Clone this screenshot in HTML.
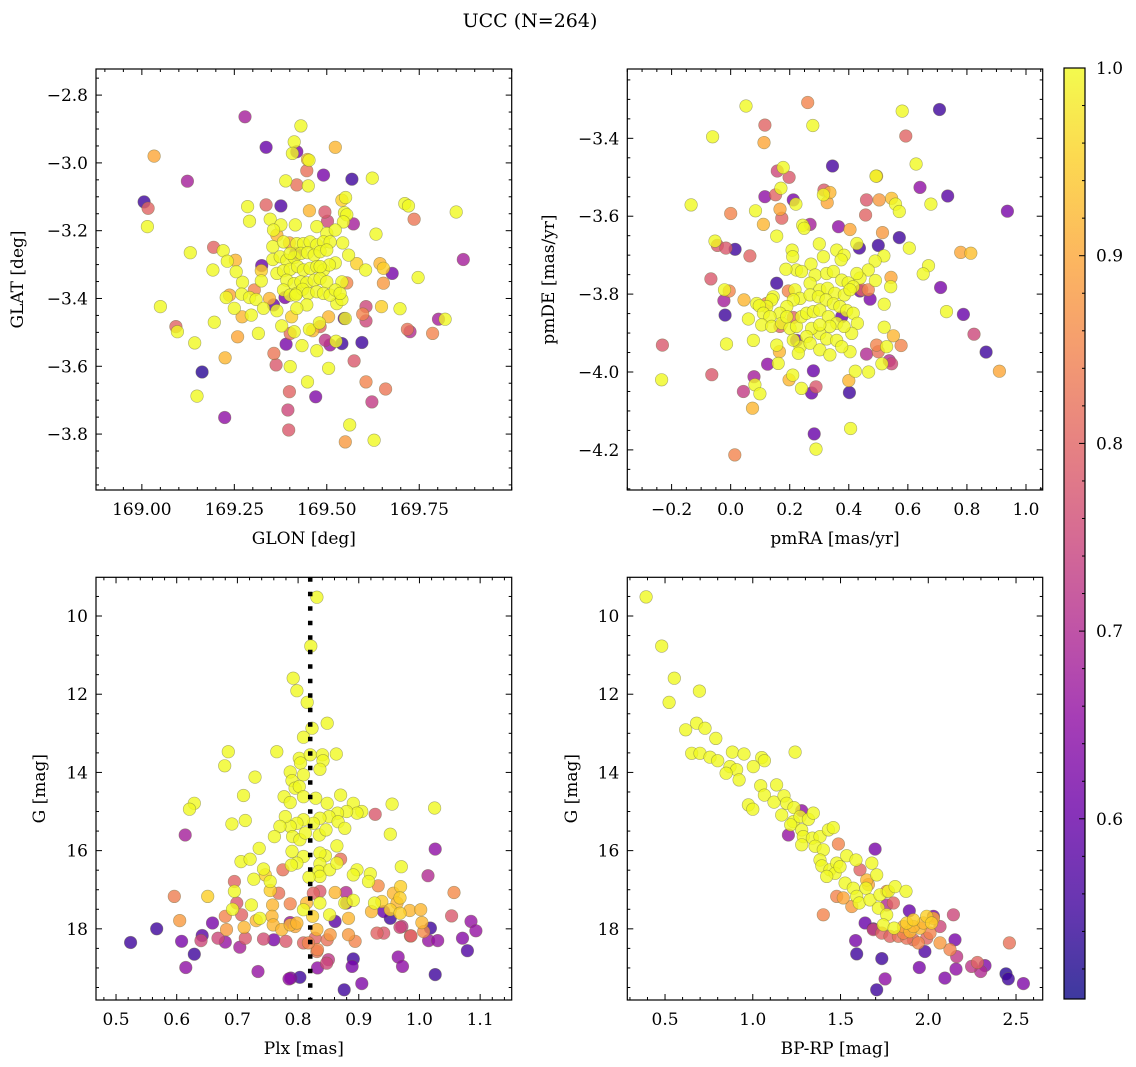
<!DOCTYPE html>
<html><head><meta charset="utf-8"><title>UCC (N=264)</title>
<style>
html,body{margin:0;padding:0;background:#fff;}
svg{display:block;font-family:"DejaVu Serif","Liberation Serif",serif;}
</style></head>
<body>
<svg id="fig" width="1136" height="1067" viewBox="0 0 1136 1067" xmlns="http://www.w3.org/2000/svg">
<defs>
<linearGradient id="plasmaGrad" x1="0" y1="1" x2="0" y2="0">
<stop offset="0" stop-color="#0d0887"/><stop offset="0.1" stop-color="#41049d"/><stop offset="0.2" stop-color="#6a00a8"/><stop offset="0.3" stop-color="#8f0da4"/><stop offset="0.4" stop-color="#b12a90"/><stop offset="0.5" stop-color="#cc4778"/><stop offset="0.6" stop-color="#e16462"/><stop offset="0.7" stop-color="#f2844b"/><stop offset="0.8" stop-color="#fca636"/><stop offset="0.9" stop-color="#fcce25"/><stop offset="1" stop-color="#f0f921"/>
</linearGradient>
</defs>
<text x="530" y="27" font-size="19" text-anchor="middle">UCC (N=264)</text>
</svg>
<script>
// ---------- data ----------
const glon=[169.279,169.430,169.412,169.336,169.419,169.407,169.523,169.448,169.452,169.033,169.446,169.491,169.568,169.623,169.123,169.389,169.419,169.450,169.006,169.017,169.015,169.286,169.291,169.336,169.376,169.541,169.551,169.711,169.721,169.736,169.850,169.453,169.495,169.502,169.548,169.554,169.572,169.545,169.347,169.376,169.415,169.473,169.356,169.365,169.633,169.500,169.523,169.194,169.220,169.131,169.231,169.253,169.192,169.324,169.323,169.323,169.272,169.255,169.869,169.677,169.747,169.653,169.644,169.605,169.581,169.559,169.543,169.653,169.554,169.541,169.523,169.228,169.237,169.270,169.304,169.291,169.309,169.345,169.329,169.365,169.250,169.271,169.296,169.050,169.092,169.096,169.143,169.196,169.259,169.315,169.225,169.163,169.149,169.224,169.390,169.357,169.363,169.401,169.433,169.399,169.395,169.397,169.448,169.470,169.505,169.473,169.496,169.509,169.525,169.541,169.595,169.574,169.606,169.597,169.606,169.606,169.622,169.659,169.562,169.550,169.628,169.547,169.550,169.648,169.698,169.718,169.725,169.786,169.802,169.820,169.401,169.412,169.453,169.462,169.480,169.482,169.505,169.405,169.378,169.527,169.541,169.354,169.383,169.399,169.419,169.437,169.455,169.473,169.491,169.509,169.354,169.374,169.392,169.412,169.430,169.448,169.466,169.482,169.500,169.365,169.383,169.401,169.421,169.437,169.455,169.473,169.491,169.507,169.392,169.412,169.430,169.446,169.466,169.482,169.500,169.383,169.401,169.419,169.435,169.450,169.473,169.491,169.509,169.523,169.416,169.482,169.536,169.446,169.419,169.387,169.356,169.416,169.401];
const glat=[-2.864,-2.891,-2.938,-2.954,-2.967,-2.972,-2.954,-2.990,-2.992,-2.980,-3.023,-3.036,-3.048,-3.045,-3.054,-3.053,-3.065,-3.068,-3.115,-3.134,-3.188,-3.129,-3.172,-3.124,-3.127,-3.110,-3.102,-3.120,-3.127,-3.166,-3.145,-3.141,-3.145,-3.172,-3.147,-3.153,-3.180,-3.174,-3.166,-3.183,-3.183,-3.188,-3.198,-3.213,-3.210,-3.208,-3.198,-3.249,-3.259,-3.265,-3.290,-3.287,-3.316,-3.303,-3.318,-3.348,-3.352,-3.321,-3.285,-3.326,-3.338,-3.311,-3.297,-3.316,-3.297,-3.272,-3.236,-3.355,-3.354,-3.351,-3.295,-3.397,-3.390,-3.387,-3.375,-3.397,-3.403,-3.400,-3.429,-3.436,-3.429,-3.454,-3.449,-3.424,-3.483,-3.498,-3.531,-3.470,-3.513,-3.503,-3.575,-3.617,-3.688,-3.751,-3.535,-3.562,-3.596,-3.601,-3.539,-3.675,-3.729,-3.788,-3.646,-3.690,-3.606,-3.554,-3.523,-3.537,-3.526,-3.533,-3.530,-3.584,-3.424,-3.446,-3.466,-3.646,-3.705,-3.667,-3.773,-3.823,-3.818,-3.459,-3.459,-3.424,-3.430,-3.491,-3.498,-3.503,-3.461,-3.461,-3.503,-3.498,-3.491,-3.495,-3.472,-3.483,-3.454,-3.454,-3.481,-3.415,-3.403,-3.247,-3.233,-3.236,-3.238,-3.238,-3.233,-3.242,-3.233,-3.233,-3.285,-3.277,-3.287,-3.279,-3.267,-3.265,-3.272,-3.262,-3.257,-3.326,-3.318,-3.314,-3.306,-3.316,-3.311,-3.306,-3.316,-3.301,-3.346,-3.356,-3.351,-3.354,-3.346,-3.341,-3.351,-3.375,-3.390,-3.385,-3.373,-3.385,-3.380,-3.385,-3.390,-3.375,-3.390,-3.306,-3.385,-3.419,-3.429,-3.397,-3.419,-3.267,-3.267];
const prob1=[.68,1,1,.6,.62,1,.92,.92,1,.9,.82,.62,.55,1,.68,1,.82,1,.55,.8,1,1,1,.8,.57,.95,1,1,1,.83,1,.92,.78,.75,1,1,.68,1,1,1,1,1,1,.92,1,1,1,.8,1,1,1,.92,1,.6,.95,1,1,1,.68,.62,1,.95,.92,1,.95,1,1,.88,.85,1,1,1,.9,1,.85,1,1,.92,1,1,1,.92,1,1,.8,1,1,1,.9,1,.92,.53,1,.65,.62,.83,.78,1,1,.8,.75,.78,1,.63,1,1,.72,.66,1,.55,.55,.78,.75,.85,.75,.85,.73,.83,1,.88,1,.58,1,.95,1,.82,.7,.85,.68,1,.82,1,1,.92,1,.8,.92,.95,1,1,1,1,1,.9,1,1,1,1,1,1,1,1,1,1,1,1,1,1,1,1,1,1,1,1,1,1,1,1,1,1,1,1,1,1,1,1,1,1,1,1,1,1,1,1,1,1,1,1,1,.62,.6,.62,1,1,1,1,.85,.92];

const pmra=[.052,.261,.278,.116,.113,-.061,.581,.707,.593,.345,.628,.178,.158,.198,.494,.492,.641,.735,.937,.678,.316,.336,.314,.327,.170,.152,.116,.212,.221,-.134,.000,.084,.167,.173,.111,.156,.244,.269,.249,.460,.503,.545,.558,.571,.457,.365,.404,.514,.571,.500,.436,.427,.519,.605,.779,.813,-.053,-.045,-.016,.015,.065,-.067,-.021,-.005,-.023,-.019,.670,.652,.711,.731,.788,.824,.865,.910,-.231,-.234,-.064,-.014,.077,.060,.045,.088,.043,.079,.082,.099,.074,.125,.161,.165,.156,.198,.210,.240,.280,.289,.274,.283,.289,.014,.406,.402,.400,.422,.467,.460,.500,.494,.512,.537,.545,.528,.551,.577,.520,.543,.542,.490,.466,.444,.472,.520,.489,.466,.438,.427,.208,.210,.300,.314,.359,.384,.374,.272,.223,.187,.240,.286,.325,.348,.376,.398,.415,.269,.302,.328,.353,.385,.404,.218,.235,.269,.297,.323,.348,.370,.393,.415,.429,.410,.212,.190,.167,.144,.139,.122,.097,.111,.133,.105,.139,.173,.201,.223,.240,.257,.280,.302,.331,.359,.384,.336,.302,.274,.257,.235,.212,.229,.269,.302,.336,.325,.359,.404,.376,.302,.190,.212,.167,.223,.156,.122,.195,.376,.438];
const pmde=[-3.317,-3.308,-3.367,-3.366,-3.411,-3.396,-3.330,-3.326,-3.394,-3.471,-3.466,-3.475,-3.484,-3.500,-3.497,-3.497,-3.526,-3.548,-3.587,-3.569,-3.533,-3.539,-3.545,-3.565,-3.528,-3.545,-3.550,-3.558,-3.569,-3.571,-3.593,-3.586,-3.582,-3.605,-3.621,-3.651,-3.623,-3.621,-3.631,-3.558,-3.558,-3.554,-3.569,-3.588,-3.597,-3.627,-3.634,-3.642,-3.655,-3.675,-3.682,-3.670,-3.702,-3.682,-3.693,-3.695,-3.664,-3.675,-3.682,-3.685,-3.702,-3.761,-3.789,-3.792,-3.817,-3.854,-3.727,-3.748,-3.783,-3.845,-3.852,-3.903,-3.949,-3.998,-3.931,-4.020,-4.007,-3.928,-3.919,-3.864,-3.815,-3.824,-4.050,-4.012,-4.033,-4.056,-4.093,-3.980,-3.978,-3.948,-3.931,-4.020,-4.008,-4.042,-3.997,-4.038,-4.054,-4.159,-4.198,-4.213,-4.145,-4.053,-4.022,-3.998,-4.000,-3.954,-3.948,-3.931,-3.979,-3.971,-3.979,-3.935,-3.907,-3.932,-3.885,-3.757,-3.781,-3.765,-3.789,-3.789,-3.813,-3.826,-3.715,-3.738,-3.759,-3.747,-3.687,-3.704,-3.671,-3.704,-3.687,-3.700,-3.712,-3.723,-3.738,-3.736,-3.742,-3.751,-3.747,-3.742,-3.764,-3.771,-3.781,-3.772,-3.789,-3.785,-3.798,-3.802,-3.789,-3.789,-3.811,-3.802,-3.807,-3.815,-3.825,-3.832,-3.842,-3.849,-3.875,-3.901,-3.815,-3.832,-3.849,-3.807,-3.815,-3.832,-3.830,-3.849,-3.858,-3.879,-3.883,-3.875,-3.888,-3.883,-3.858,-3.849,-3.845,-3.841,-3.858,-3.875,-3.883,-3.883,-3.901,-3.888,-3.909,-3.935,-3.918,-3.952,-3.926,-3.943,-3.956,-3.915,-3.919,-3.948,-3.935,-3.879,-3.858,-3.860,-3.883,-3.919,-3.772,-3.824,-3.792,-3.858,-3.792];
const prob2=[1,.85,1,.8,.9,1,1,.55,.8,.56,1,1,.75,.78,.9,1,.65,.58,.62,1,.78,.92,1,.9,1,.8,.65,.62,1,1,.85,1,.9,.8,.92,1,1,.68,1,.78,.88,.93,1,1,.8,.65,.9,.88,.55,.55,.56,1,1,1,.9,.93,1,.78,.78,.55,.8,.78,1,.85,.68,.55,1,1,.62,1,.6,.75,.55,.9,.78,1,.78,1,1,1,.92,1,.73,.68,1,1,.92,.65,1,.92,1,.92,1,1,.6,.78,.6,.6,1,.85,1,.55,.92,1,1,.7,.82,.85,1,.7,.75,1,.92,.85,1,.9,1,1,.85,.8,.62,1,1,1,1,1,1,1,1,1,1,1,1,1,1,1,1,1,1,1,1,1,1,1,1,1,1,1,1,1,1,1,1,1,1,1,1,1,1,1,1,1,1,1,1,1,1,1,1,1,1,1,1,1,1,1,1,1,1,1,1,1,1,1,1,1,1,1,1,1,1,1,1,1,1,1,1,.8,.8,.6,.55,.85,.85,.6,.6,.9];

const plx=[.831,.821,.792,.798,.815,.848,.823,.809,.685,.679,.765,.863,.729,.802,.804,.820,.840,.841,.836,.787,.790,.809,.795,.802,.777,.787,.809,.829,.848,.870,.891,.905,.897,.880,.865,.851,.836,.825,.809,.798,.787,.779,.770,.761,.791,.803,.812,.835,.846,.866,.877,.864,.845,.836,.809,.790,.798,.789,.836,.834,.852,.836,.818,.864,.897,.919,.916,.891,.710,.713,.691,.629,.621,.955,.952,1.025,.970,.969,.957,.968,.938,.926,.921,.952,.968,.984,1.002,1.004,.963,.736,.706,.721,.727,.743,.746,.754,.754,.695,.651,.723,.692,.758,.757,.759,.773,.737,.731,.711,.682,.680,.787,.798,.809,.814,.824,.831,.852,.836,.861,.877,.891,.883,.853,.883,.894,.832,.817,.795,.787,.825,.836,.870,.775,.768,.707,.699,.695,.596,.605,1.057,1.053,.932,.930,.927,.968,.986,1.007,1.014,1.026,.614,.524,.567,.608,.629,.642,.640,.659,.668,.680,.704,.713,.743,.760,.780,.787,.809,.828,.850,.847,.832,.831,.788,.785,.803,.734,.615,.876,.891,.889,.905,.879,.941,.952,.941,.971,.985,.965,.972,1.018,1.015,1.030,1.026,1.071,1.079,1.085,1.093,.861,.848,.880];
const gmag3=[9.52,10.77,11.59,11.91,12.21,12.74,12.87,13.10,13.47,13.83,13.47,13.53,14.12,13.64,13.76,13.55,13.55,13.70,13.92,13.99,14.21,14.06,14.40,14.36,14.62,14.77,14.62,14.66,14.79,14.58,14.79,15.00,15.04,15.00,15.04,15.13,15.17,15.30,15.21,15.30,15.38,15.13,15.38,15.64,15.64,15.72,15.55,15.60,15.47,15.26,15.43,15.88,16.13,16.06,16.15,16.02,16.32,16.37,16.34,16.53,16.49,16.66,16.68,16.32,16.49,16.59,16.79,16.62,14.59,15.23,15.32,14.79,14.94,14.81,15.58,14.91,16.41,16.92,17.09,17.21,17.30,17.34,17.56,17.51,17.60,17.53,17.51,17.84,17.34,15.94,16.28,16.22,16.73,16.47,16.62,16.79,17.02,17.04,17.17,17.39,17.50,17.39,17.68,17.90,18.02,17.73,17.79,17.96,18.02,17.68,17.90,17.85,17.51,17.34,17.68,18.02,17.64,17.34,17.07,17.34,17.27,17.73,18.15,18.15,18.32,18.53,18.36,17.94,17.36,17.09,17.04,16.22,16.49,17.09,17.64,17.34,16.79,17.17,17.79,17.07,17.67,16.90,18.11,15.07,17.96,18.18,18.07,16.64,15.96,15.60,18.35,18.00,18.32,18.65,18.17,18.30,17.85,18.24,18.34,18.47,18.24,18.26,18.28,18.32,17.84,18.36,18.24,18.79,18.88,19.00,18.58,19.26,19.28,19.24,19.09,18.99,19.56,18.77,18.96,19.40,17.07,17.56,17.73,18.11,17.94,18.18,18.72,18.96,17.98,18.30,18.30,19.17,18.24,18.56,17.81,18.05,17.81,18.28,17.34];
const prob3=[1,1,1,1,1,1,1,1,1,1,1,1,1,1,1,1,1,1,1,1,1,1,1,1,1,1,1,1,1,1,1,1,1,1,1,1,1,1,1,1,1,1,1,1,1,1,1,1,1,1,1,1,1,1,1,1,1,1,1,1,1,1,1,1,1,1,1,1,1,1,1,1,1,1,1,1,1,.95,.92,.95,.95,1,.92,.95,.95,.92,.92,.92,.92,1,1,1,1,1,.95,1,.95,1,.95,1,1,.92,.92,.92,.92,1,.92,.92,.88,.85,.92,.92,1,.92,.95,.92,1,1,.92,1,1,.92,.88,.88,.85,.85,.85,.9,.85,.8,.78,.82,.82,.82,.8,.78,.8,.84,.88,.86,.78,.86,.8,.78,.75,.8,.86,.7,.65,.68,.55,.55,.62,.55,.58,.75,.62,.75,.66,.68,.78,.76,.62,.78,.66,.8,.8,.72,.75,.65,.82,.62,.65,.55,.66,.65,.55,.55,.62,.63,.7,.6,.55,.78,.72,.78,.65,.65,.55,.66,.66,.55,.64,.57,.66,.66,.58,.82,.62];

const bprp=[.392,.481,.553,.523,.696,.618,.680,.728,.789,.652,.699,.756,.800,.884,.950,1.051,1.066,.870,.908,.848,.922,1.003,1.045,1.241,1.136,.975,1.000,1.066,1.121,1.178,1.193,1.235,1.165,1.231,1.216,1.269,1.317,1.345,1.279,1.288,1.340,1.383,1.431,1.459,1.279,1.355,1.402,1.383,1.393,1.440,1.478,1.469,1.497,1.535,1.588,1.678,1.706,1.421,1.526,1.573,1.649,1.645,1.592,1.607,1.668,1.725,1.773,1.811,1.873,1.716,1.763,1.744,1.805,1.877,1.915,1.991,1.953,1.896,2.019,1.488,1.478,1.516,1.564,1.402,1.611,1.659,1.763,1.735,1.782,1.830,1.877,1.915,1.943,1.991,2.010,2.067,2.124,2.143,2.462,2.067,1.687,1.801,1.763,1.858,1.915,1.972,2.029,1.858,1.697,1.203,1.279,1.892,1.640,1.687,1.586,1.592,1.735,1.754,1.706,1.949,1.981,2.095,2.152,2.162,2.158,2.247,2.280,2.299,2.323,2.443,2.456,2.542,2.029];
const gmag4=[9.51,10.77,11.59,12.21,11.92,12.91,12.74,12.87,13.13,13.51,13.51,13.61,13.70,13.48,13.53,13.62,13.70,13.85,13.93,14.02,14.19,13.85,14.34,13.48,14.32,14.83,14.94,14.58,14.76,14.60,14.79,14.90,15.09,15.26,15.34,15.13,15.20,15.04,15.47,15.64,15.68,15.64,15.47,15.41,15.85,15.89,15.98,16.24,16.39,16.49,16.32,16.58,16.41,16.13,16.24,16.32,16.62,16.66,16.83,16.96,16.75,16.96,17.17,17.34,17.26,17.13,17.04,16.92,17.04,17.47,17.64,17.90,17.98,17.85,17.77,17.68,17.98,18.07,17.85,15.83,17.17,17.21,17.43,17.64,16.49,16.87,17.04,18.11,18.19,18.19,18.24,18.28,18.36,18.24,18.11,18.36,18.53,17.64,18.36,17.94,18.02,17.34,17.39,17.94,17.94,17.85,17.73,18.11,15.96,15.60,14.98,17.54,17.85,18.00,18.30,18.64,18.76,19.28,19.56,18.99,18.58,19.26,18.28,18.71,19.03,18.96,18.86,19.09,18.94,19.15,19.28,19.40,17.68];
const prob4=[1,1,1,1,1,1,1,1,1,1,1,1,1,1,1,1,1,1,1,1,1,1,1,1,1,1,1,1,1,1,1,1,1,1,1,1,1,1,1,1,1,1,1,1,1,1,1,1,1,1,1,1,1,1,1,1,1,1,1,1,.92,1,1,1,1,1,1,1,1,1,1,1,1,.95,.95,.95,.92,.92,.95,.85,.85,.9,.88,.85,.8,.9,.85,.8,.8,.82,.82,.8,.85,.8,.85,.88,.85,.75,.82,.75,.75,.8,.7,.9,.92,.92,.9,.85,.62,.66,.65,.6,.6,.55,.62,.55,.55,.65,.55,.62,.57,.63,.62,.72,.65,.72,.8,.7,.63,.53,.55,.63,.62];

const plxLine=[0.820];
const cbarTicks=[0.6,0.7,0.8,0.9,1.0];
const cbarRange=[0.504,1.0];

// ---------- helpers ----------
const NS="http://www.w3.org/2000/svg";
const svg=document.getElementById('fig');
function mk(tag,attrs,parent){const e=document.createElementNS(NS,tag);for(const k in attrs)e.setAttribute(k,attrs[k]);(parent||svg).appendChild(e);return e;}
const stops=[[13,8,135],[65,4,157],[106,0,168],[143,13,164],[177,42,144],[204,71,120],[225,100,98],[242,132,75],[252,166,54],[252,206,37],[240,249,33]];
function plasma(v){let t=(v-cbarRange[0])/(cbarRange[1]-cbarRange[0]);t=Math.max(0,Math.min(1,t));const f=t*10,i=Math.min(9,Math.floor(f)),r=f-i;const a=stops[i],b=stops[i+1];return 'rgb('+[0,1,2].map(k=>Math.round(a[k]+(b[k]-a[k])*r)).join(',')+')';}
function fmt(v,d){const s=Math.abs(v).toFixed(d);return (v<-1e-9?'\u2212':'')+s;}

const FS=17;
const panels=[
 {name:'glon-glat',x0:96,x1:511.7,y0:69,y1:490,xd:[168.876,170.0],yd:[-2.723,-3.965],xs:glon,ys:glat,ps:prob1,
  xmaj:[169,169.25,169.5,169.75],xdec:2,xmin:0.05,ymaj:[-2.8,-3.0,-3.2,-3.4,-3.6,-3.8],ydec:1,ymin:0.05,xl:'GLON [deg]',yl:'GLAT [deg]',ylx:18},
 {name:'pmra-pmde',x0:627.3,x1:1042.7,y0:69,y1:490,xd:[-0.350,1.0566],yd:[-3.222,-4.303],xs:pmra,ys:pmde,ps:prob2,
  xmaj:[-0.2,0,0.2,0.4,0.6,0.8,1.0],xdec:1,xmin:0.05,ymaj:[-3.4,-3.6,-3.8,-4.0,-4.2],ydec:1,ymin:0.05,xl:'pmRA [mas/yr]',yl:'pmDE [mas/yr]',ylx:549},
 {name:'plx-g',x0:96,x1:511.7,y0:577.3,y1:1000,xd:[0.467,1.152],yd:[9.01,19.82],xs:plx,ys:gmag3,ps:prob3,
  xmaj:[0.5,0.6,0.7,0.8,0.9,1.0,1.1],xdec:1,xmin:0.02,ymaj:[10,12,14,16,18],ydec:0,ymin:0.5,xl:'Plx [mas]',yl:'G [mag]',ylx:40},
 {name:'bprp-g',x0:627.3,x1:1042.7,y0:577.3,y1:1000,xd:[0.285,2.652],yd:[9.01,19.82],xs:bprp,ys:gmag4,ps:prob4,
  xmaj:[0.5,1.0,1.5,2.0,2.5],xdec:1,xmin:0.1,ymaj:[10,12,14,16,18],ydec:0,ymin:0.5,xl:'BP-RP [mag]',yl:'G [mag]',ylx:572}
];

panels.forEach((P,pi)=>{
  const sx=v=>P.x0+(v-P.xd[0])/(P.xd[1]-P.xd[0])*(P.x1-P.x0);
  const sy=v=>P.y0+(v-P.yd[0])/(P.yd[1]-P.yd[0])*(P.y1-P.y0);
  const g=mk('g',{});
  
  
  const clipId='clip'+pi;
  const cp=mk('clipPath',{id:clipId},g);
  mk('rect',{x:P.x0,y:P.y0,width:P.x1-P.x0,height:P.y1-P.y0},cp);
  const pts=mk('g',{'clip-path':'url(#'+clipId+')'},g);
  
  
  const idx=P.xs.map((_,i)=>i).sort((a,b)=>P.ps[a]-P.ps[b]);
  idx.forEach(i=>{
    const c=mk('circle',{cx:sx(P.xs[i]).toFixed(1),cy:sy(P.ys[i]).toFixed(1),r:6.3,fill:plasma(P.ps[i]),'fill-opacity':0.8,stroke:'#6b6b40','stroke-opacity':0.55,'stroke-width':0.6},pts);
    
    
  });
  if(pi===2){
    plxLine.forEach(v=>{
      const l=mk('line',{x1:sx(v),x2:sx(v),y1:P.y0,y2:P.y1,stroke:'#000','stroke-width':4.5,'stroke-dasharray':'4.5 10'},g);
      
      
    });
  }
  const tk=mk('g',{stroke:'#000','stroke-width':1},g);
  
  
  const xStart=Math.ceil(P.xd[0]/P.xmin-1e-6)*P.xmin;
  for(let v=xStart;v<=P.xd[1]+1e-9;v+=P.xmin){
    const isMaj=P.xmaj.some(m=>Math.abs(m-v)<1e-6);const L=isMaj?6:3;const x=sx(v);
    mk('line',{x1:x,x2:x,y1:P.y1,y2:P.y1-L},tk);mk('line',{x1:x,x2:x,y1:P.y0,y2:P.y0+L},tk);
  }
  const ylo=Math.min(P.yd[0],P.yd[1]),yhi=Math.max(P.yd[0],P.yd[1]);
  const yStart=Math.ceil(ylo/P.ymin-1e-6)*P.ymin;
  for(let v=yStart;v<=yhi+1e-9;v+=P.ymin){
    const isMaj=P.ymaj.some(m=>Math.abs(m-v)<1e-6);const L=isMaj?6:3;const y=sy(v);
    mk('line',{x1:P.x0,x2:P.x0+L,y1:y,y2:y},tk);mk('line',{x1:P.x1,x2:P.x1-L,y1:y,y2:y},tk);
  }
  const fr=mk('rect',{x:P.x0,y:P.y0,width:P.x1-P.x0,height:P.y1-P.y0,fill:'none',stroke:'#000','stroke-width':1.2},g);
  
  
  P.xmaj.forEach(v=>{
    const t=mk('text',{x:sx(v),y:P.y1+25,'font-size':FS,'text-anchor':'middle'},g);t.textContent=fmt(v,P.xdec);
    
    
  });
  P.ymaj.forEach(v=>{
    const t=mk('text',{x:P.x0-8,y:sy(v)+6,'font-size':FS,'text-anchor':'end'},g);t.textContent=fmt(v,P.ydec);
    
    
  });
  const xt=mk('text',{x:(P.x0+P.x1)/2,y:P.y1+54,'font-size':FS,'text-anchor':'middle'},g);xt.textContent=P.xl;
  
  
  const yc=(P.y0+P.y1)/2;
  const yt=mk('text',{x:P.ylx,y:yc,'font-size':FS,'text-anchor':'middle',transform:'rotate(-90 '+P.ylx+' '+yc+')','dominant-baseline':'central'},g);yt.textContent=P.yl;
  
  
});

(function(){
  const cx0=1064,cx1=1085,cy0=68,cy1=999;
  const cb=mk('g',{});
  
  
  mk('rect',{x:cx0,y:cy0,width:cx1-cx0,height:cy1-cy0,fill:'url(#plasmaGrad)','fill-opacity':0.8},cb);
  const sy=v=>cy1-(v-cbarRange[0])/(cbarRange[1]-cbarRange[0])*(cy1-cy0);
  for(let v=0.52;v<=1.0001;v+=0.02){
    const isMaj=cbarTicks.some(m=>Math.abs(m-v)<1e-6);
    mk('line',{x1:cx1,x2:cx1-(isMaj?6:3),y1:sy(v),y2:sy(v),stroke:'#000','stroke-width':1},cb);
  }
  mk('rect',{x:cx0,y:cy0,width:cx1-cx0,height:cy1-cy0,fill:'none',stroke:'#000','stroke-width':1.2},cb);
  cbarTicks.forEach(v=>{
    const t=mk('text',{x:cx1+11,y:sy(v)+6,'font-size':FS},cb);t.textContent=v.toFixed(1);
    
    
  });
})();
</script>
</body></html>
